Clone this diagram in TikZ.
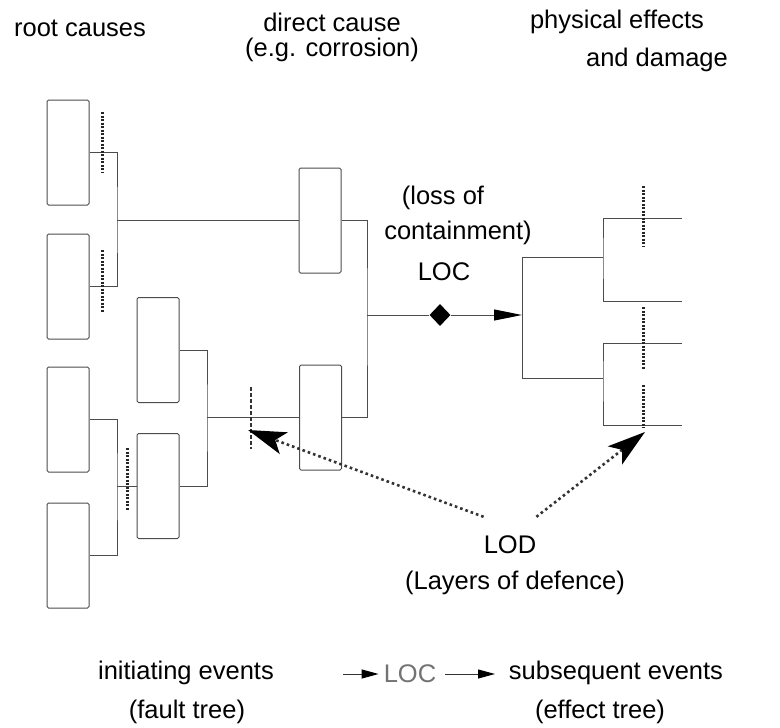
\documentclass[tikz,border=0pt]{standalone}
\usepackage{fontspec}
\setmainfont{Liberation Sans}
\usetikzlibrary{arrows.meta,shapes.geometric,positioning}

\begin{document}
\begin{tikzpicture}[x=1pt,y=-1pt,
  every node/.style={font=\fontsize{25.5}{30}\selectfont,inner sep=0pt},
  box/.style={draw=black!70,line width=1pt,rounded corners=1.5pt,minimum width=42pt,minimum height=105pt},
  link/.style={draw=black!70,line width=1pt},
  lodbar/.style={black!85,line width=3pt,dash pattern=on 2.2pt off 1.3pt},
  lodarrow/.style={black!80,line width=2.6pt,dash pattern=on 2.6pt off 3pt,-{Stealth[length=38pt,width=23pt,inset=9pt,color=black]}},
  legarrow/.style={black!80,line width=1pt,-{Triangle[length=17pt,width=9pt,color=black]}}]
\useasboundingbox (0,0) rectangle (780,728);

% headings
\node (root) at (80,28) {root causes};
\node (direct) at (332,22) {direct cause};
\node (corr) at (332,50) {(e.g. corrosion)};
\node (phys) at (617,22) {physical effects};
\node (dam) at (657,60) {and damage};

% fault tree boxes
\node[box] (a1) at (68,152.5) {};
\node[box] (a2) at (68,286.5) {};
\node[box] (a3) at (68,419.5) {};
\node[box] (a4) at (68,555.5) {};
\node[box] (b1) at (158,350) {};
\node[box] (b2) at (158,486) {};
\node[box] (c1) at (320,220.5) {};
\node[box] (c2) at (320.5,417.5) {};

\coordinate (ja) at (117,0 |- c1.west);
\coordinate (jb) at (117,0 |- b2.west);
\coordinate (jc) at (207,0 |- c2.west);
\coordinate (jd) at (367,315);

\draw[link] (a1.east) -| (ja) |- (a2.east);
\draw[link] (ja) -- (c1.west);
\draw[link] (a3.east) -| (jb) |- (a4.east);
\draw[link] (jb) -- (b2.west);
\draw[link] (b1.east) -| (jc) |- (b2.east);
\draw[link] (jc) -- (c2.west);
\draw[link] (c1.east) -| (jd) |- (c2.east);

% loss of containment
\node at (443,198) {(loss of};
\node at (458,233) {containment)};
\node at (444,272) {LOC};
\node[diamond,fill=black,minimum width=21pt,minimum height=22pt] (loc) at (440,315) {};
\coordinate (je) at (522,315);
\draw[link] (jd) -- (loc);
\draw[link,-{Triangle[length=28pt,width=11pt,color=black]}] (loc) -- (je);

% effect tree
\coordinate (ea) at (603,257);
\coordinate (eb) at (603,378);
\coordinate (e1) at (682,218);
\coordinate (e2) at (682,301);
\coordinate (e3) at (682,343);
\coordinate (e4) at (682,425);
\draw[link] (je) |- (ea);
\draw[link] (je) |- (eb);
\draw[link] (e1) -| (ea) |- (e2);
\draw[link] (e3) -| (eb) |- (e4);

% barriers
\draw[lodbar] (102,112) -- (102,173);
\draw[lodbar] (102,250) -- (102,312);
\draw[lodbar] (127,448) -- (127,510);
\draw[black!80,line width=1.4pt,dash pattern=on 4pt off 2pt] (251,387) -- (251,449);
\draw[lodbar] (643,186) -- (643,247);
\draw[lodbar] (643,307) -- (643,369);
\draw[lodbar] (643,385) -- (643,428);

% layers of defence
\node[minimum width=50pt,minimum height=56pt] (lod) at (510,545) {LOD};
\node (lodtxt) at (515,583) {(Layers of defence)};
\coordinate (t1) at (248,430);
\coordinate (t2) at (645,432);
\draw[lodarrow] (lod.north west) -- (t1);
\draw[lodarrow] (lod.north east) -- (t2);

% legend
\node (init) at (186,673) {initiating events};
\node (fault) at (187,712) {(fault tree)};
\node[text=black!55] (legloc) at (410,674) {LOC};
\coordinate (la) at (343,674);
\coordinate (lb) at (495,674);
\draw[legarrow,shorten >=5pt] (la) -- (legloc.west);
\draw[legarrow,shorten <=9pt] (legloc.east) -- (lb);
\node (subs) at (616,673) {subsequent events};
\node (eff) at (600,712) {(effect tree)};
\end{tikzpicture}
\end{document}
